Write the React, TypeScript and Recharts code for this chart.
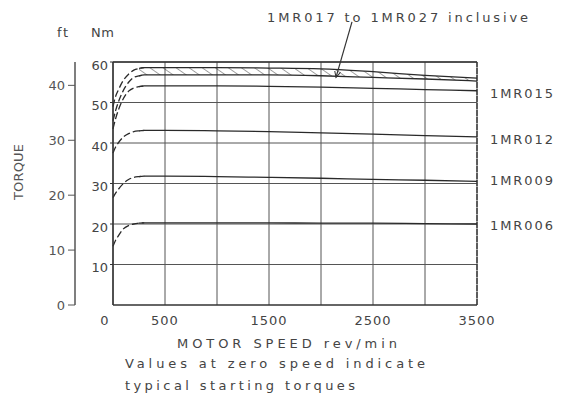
import React from 'react';
import {
  ComposedChart, Line, Area, XAxis, YAxis, CartesianGrid, ReferenceLine,
} from 'recharts';

// motor speed, rev/min
const speeds = [0, 25, 50, 100, 150, 200, 250, 300, 500, 1000, 1500, 2000, 2500, 3000, 3500];
// torque, Nm
const band017to027High = [49, 51.5, 53, 55.5, 57, 58, 58.4, 58.6, 58.6, 58.6, 58.5, 58.3, 57.6, 56.7, 56.0];
const band017to027Low = [45.5, 48, 50, 53, 55, 56.2, 56.6, 56.8, 56.8, 56.8, 56.8, 56.6, 56.2, 55.8, 55.3];
const mr015 = [43.5, 46, 48, 51, 52.8, 53.6, 53.9, 54.1, 54.1, 54.1, 54.0, 53.8, 53.5, 53.2, 52.9];
const mr012 = [37.5, 39, 40, 41.5, 42.3, 42.8, 43.0, 43.1, 43.1, 43.0, 42.8, 42.5, 42.2, 41.8, 41.5];
const mr009 = [26.5, 27.6, 28.5, 30, 31, 31.5, 31.7, 31.8, 31.8, 31.7, 31.5, 31.3, 31.0, 30.8, 30.5];
const mr006 = [14.5, 16, 17, 18.8, 19.6, 20, 20.2, 20.3, 20.3, 20.3, 20.3, 20.2, 20.2, 20.1, 20.0];

const nmTicks = [10, 20, 30, 40, 50, 60];
const ftTicks = [0, 10, 20, 30, 40];
const speedTicks = [0, 500, 1000, 1500, 2000, 2500, 3000, 3500];
const speedLabels = ['0', '500', '1500', '2500', '3500'];

const NM_PER_LBFFT = 1.35582;
const RISE_END = 300;

const series = [
  { key: 'b017h', vals: band017to027High },
  { key: 'b017l', vals: band017to027Low },
  { key: 'm015', vals: mr015 },
  { key: 'm012', vals: mr012 },
  { key: 'm009', vals: mr009 },
  { key: 'm006', vals: mr006 },
];

const data = speeds.map((s, i) => {
  const row: any = { speed: s };
  series.forEach(({ key, vals }) => {
    row[key + 'Rise'] = s <= RISE_END ? vals[i] : null;
    row[key + 'Flat'] = s >= RISE_END - 50 ? vals[i] : null;
  });
  row.band = s >= RISE_END - 50 ? [band017to027Low[i], band017to027High[i]] : null;
  return row;
});

const INK = '#333';
const FONT = '"DejaVu Sans", sans-serif';
const NM = 0;
const FT = 1;

const XTick = (props: any) => {
  const { x, y, payload } = props;
  const label = String(payload.value);
  if (!speedLabels.includes(label)) return null;
  const dx = payload.value === 0 ? -8 : 0;
  return (
    <text x={x + dx} y={y + 12} textAnchor="middle" fontFamily={FONT} fontSize={13} fill="#444" letterSpacing={1}>
      {label}
    </text>
  );
};

const texts = [
  { t: 'ft', x: 57, y: 37, len: 11 },
  { t: 'Nm', x: 91, y: 37, len: 23 },
  { t: '1MR017 to 1MR027 inclusive', x: 267, y: 22, len: 261 },
  { t: '1MR015', x: 490, y: 98, len: 63 },
  { t: '1MR012', x: 490, y: 144, len: 63 },
  { t: '1MR009', x: 490, y: 185, len: 63 },
  { t: '1MR006', x: 490, y: 230, len: 63 },
  { t: 'MOTOR SPEED rev/min', x: 177, y: 348, len: 220 },
  { t: 'Values at zero speed indicate', x: 125, y: 368, len: 300 },
  { t: 'typical starting torques', x: 125, y: 390, len: 230 },
];

export default function App() {
  const lineProps = { type: 'monotone' as const, stroke: '#2a2a2a', strokeWidth: 1.3, dot: false, isAnimationActive: false, yAxisId: NM, connectNulls: false };
  return (
    <div style={{ position: 'absolute', left: 0, top: 0, width: 561, height: 394, background: '#fff' }}>
      <ComposedChart width={561} height={394} data={data} margin={{ top: 62, right: 84, bottom: 59, left: 30 }}>
        <defs>
          <pattern id="hatch" patternUnits="userSpaceOnUse" width="7.5" height="10" patternTransform="rotate(-55)">
            <line x1="0" y1="0" x2="0" y2="10" stroke="#222" strokeWidth="1.4" />
          </pattern>
          <marker id="arrowHead" markerWidth="8" markerHeight="8" refX="6" refY="3" orient="auto" markerUnits="userSpaceOnUse">
            <path d="M0,0 L6,3 L0,6" fill="none" stroke="#333" strokeWidth="1" />
          </marker>
        </defs>
        <CartesianGrid yAxisId={NM} stroke="#555" strokeWidth={1} horizontalValues={nmTicks} verticalValues={speedTicks} />
        <XAxis
          dataKey="speed"
          type="number"
          domain={[0, 3500]}
          ticks={speedTicks}
          height={30}
          axisLine={{ stroke: INK, strokeWidth: 1.5 }}
          tickLine={false}
          tick={<XTick />}
          interval={0}
        />
        <YAxis
          yAxisId={NM}
          width={38}
          domain={[0, 60]}
          ticks={nmTicks}
          axisLine={{ stroke: INK, strokeWidth: 1.5 }}
          tickLine={{ stroke: INK }}
          tickSize={3}
          tickMargin={2}
          tick={{ fontFamily: FONT, fontSize: 13, fill: '#444', dy: 3 }}
          interval={0}
        />
        <YAxis
          yAxisId={FT}
          width={45}
          domain={[0, 60 / NM_PER_LBFFT]}
          allowDataOverflow
          ticks={ftTicks}
          axisLine={{ stroke: '#555', strokeWidth: 1.5 }}
          tickLine={{ stroke: '#555' }}
          tickSize={7}
          tickMargin={3}
          tick={{ fontFamily: FONT, fontSize: 13, fill: '#555' }}
          interval={0}
        />
        <ReferenceLine yAxisId={NM} y={60} stroke={INK} strokeWidth={1.3} />
        <ReferenceLine yAxisId={NM} x={3500} stroke={INK} strokeWidth={1.3} strokeDasharray="6 1" />
        <Area yAxisId={NM} type="monotone" dataKey="band" fill="url(#hatch)" stroke="none" isAnimationActive={false} connectNulls={false} />
        <Line yAxisId={FT} dataKey="m006Flat" stroke="none" dot={false} isAnimationActive={false} legendType="none" />
        {series.map(({ key }) => (
          <Line key={key + 'r'} {...lineProps} dataKey={key + 'Rise'} strokeDasharray="7 3" />
        ))}
        {series.map(({ key }) => (
          <Line key={key + 'f'} {...lineProps} dataKey={key + 'Flat'} />
        ))}
        <ReferenceLine
          yAxisId={NM}
          ifOverflow="visible"
          segment={[{ x: 2298, y: 69.9 }, { x: 2144, y: 56.2 }]}
          stroke="#333"
          strokeWidth={1.2}
          markerEnd="url(#arrowHead)"
        />
      </ComposedChart>
      <svg width={561} height={394} style={{ position: 'absolute', left: 0, top: 0, pointerEvents: 'none' }}>
        {texts.map((d) => (
          <text key={d.t} x={d.x} y={d.y} fontFamily={FONT} fontSize={13} fill="#444" textLength={d.len} lengthAdjust="spacing">
            {d.t}
          </text>
        ))}
        <text x={0} y={0} transform="translate(23,172) rotate(-90)" textAnchor="middle" fontFamily={FONT} fontSize={13} fill="#555" textLength={56} lengthAdjust="spacing">
          TORQUE
        </text>
      </svg>
    </div>
  );
}
